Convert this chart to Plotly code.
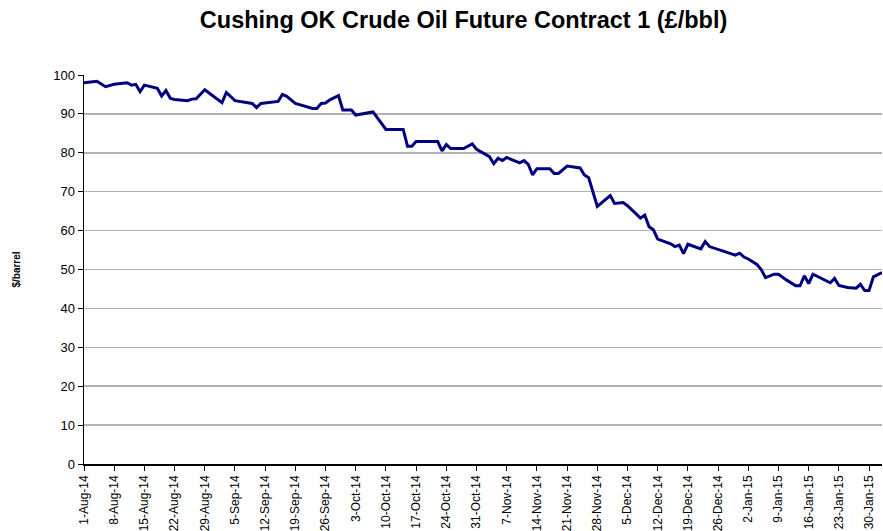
import plotly.graph_objects as go

dates = [
    "2014-08-01", "2014-08-04", "2014-08-06", "2014-08-08", "2014-08-11", "2014-08-12",
    "2014-08-13", "2014-08-14", "2014-08-15", "2014-08-18", "2014-08-19", "2014-08-20",
    "2014-08-21", "2014-08-22", "2014-08-25", "2014-08-26", "2014-08-27", "2014-08-29",
    "2014-09-02", "2014-09-03", "2014-09-05", "2014-09-09", "2014-09-10", "2014-09-11",
    "2014-09-15", "2014-09-16", "2014-09-17", "2014-09-19", "2014-09-23", "2014-09-24",
    "2014-09-25", "2014-09-26", "2014-09-27", "2014-09-29", "2014-09-30", "2014-10-02",
    "2014-10-03", "2014-10-06", "2014-10-07", "2014-10-10", "2014-10-14", "2014-10-15",
    "2014-10-16", "2014-10-17", "2014-10-22", "2014-10-23", "2014-10-24", "2014-10-25",
    "2014-10-28", "2014-10-30", "2014-10-31", "2014-11-03", "2014-11-04", "2014-11-05",
    "2014-11-06", "2014-11-07", "2014-11-10", "2014-11-11", "2014-11-12", "2014-11-13",
    "2014-11-14", "2014-11-17", "2014-11-18", "2014-11-19", "2014-11-21", "2014-11-24",
    "2014-11-25", "2014-11-26", "2014-11-28", "2014-12-01", "2014-12-02", "2014-12-04",
    "2014-12-05", "2014-12-08", "2014-12-09", "2014-12-10", "2014-12-11", "2014-12-12",
    "2014-12-15", "2014-12-16", "2014-12-17", "2014-12-18", "2014-12-19", "2014-12-22",
    "2014-12-23", "2014-12-24", "2014-12-27", "2014-12-30", "2014-12-31", "2015-01-01",
    "2015-01-02", "2015-01-04", "2015-01-05", "2015-01-06", "2015-01-08", "2015-01-09",
    "2015-01-11", "2015-01-13", "2015-01-14", "2015-01-15", "2015-01-16", "2015-01-17",
    "2015-01-21", "2015-01-22", "2015-01-23", "2015-01-25", "2015-01-27", "2015-01-28",
    "2015-01-29", "2015-01-30", "2015-01-31", "2015-02-02",
]

prices = [
    98.0, 98.4, 97.0, 97.6, 98.0, 97.4,
    97.6, 95.7, 97.4, 96.6, 94.6, 96.0,
    94.0, 93.7, 93.4, 93.8, 93.9, 96.2,
    92.9, 95.5, 93.4, 92.7, 91.6, 92.7,
    93.2, 95.0, 94.5, 92.7, 91.4, 91.4,
    92.7, 92.8, 93.6, 94.7, 91.0, 91.0,
    89.7, 90.2, 90.5, 86.0, 86.0, 81.7,
    81.7, 82.9, 82.9, 80.5, 82.1, 81.1,
    81.1, 82.3, 80.9, 79.0, 77.2, 78.6,
    78.0, 78.8, 77.4, 78.0, 77.0, 74.3,
    75.9, 75.9, 74.7, 74.7, 76.6, 76.1,
    74.3, 73.6, 66.2, 69.0, 67.0, 67.2,
    66.4, 63.2, 64.0, 61.0, 60.2, 57.8,
    56.6, 55.9, 56.3, 54.1, 56.5, 55.3,
    57.2, 55.9, 54.8, 53.7, 54.2, 53.2,
    52.7, 51.3, 50.0, 47.9, 48.8, 48.8,
    47.2, 45.8, 45.8, 48.4, 46.4, 48.8,
    46.6, 47.7, 45.9, 45.4, 45.2, 46.2,
    44.6, 44.6, 48.1, 49.2,
]

title_text = "Cushing OK Crude Oil Future Contract 1 (£/bbl)"
y_title = "$/barrel"

FONT = "Liberation Sans, Arial, sans-serif"

fig = go.Figure()
fig.add_trace(go.Scatter(
    x=dates, y=prices, mode="lines",
    line=dict(color="#000080", width=3),
    hoverinfo="skip",
))

fig.update_layout(
    width=883, height=531,
    margin=dict(l=84, r=1, t=75, b=67),
    paper_bgcolor="white", plot_bgcolor="white",
    showlegend=False,
    font=dict(family=FONT, color="black"),
    title=dict(
        text="<b>" + title_text + "</b>",
        font=dict(family=FONT, size=23.5, color="black"),
        x=0.525, xanchor="center", y=0.962, yanchor="middle",
    ),
    xaxis=dict(
        type="date", automargin=False,
        range=["2014-08-01", "2015-02-02"],
        tickmode="linear", tick0="2014-08-01", dtick=7 * 86400000,
        tickformat="%-d-%b-%y", tickangle=-90,
        tickfont=dict(family=FONT, size=12, color="black"),
        ticks="outside", ticklen=5, tickcolor="black",
        showline=True, linecolor="black", linewidth=1.5,
        showgrid=False, zeroline=False,
    ),
    yaxis=dict(
        automargin=False,
        range=[0, 100], dtick=10, tick0=0,
        tickfont=dict(family=FONT, size=13, color="black"),
        ticks="outside", ticklen=5, tickcolor="black",
        showline=True, linecolor="black", linewidth=1.5,
        showgrid=True, gridcolor="#b3b3b3", gridwidth=1.5,
        zeroline=False,
        title=dict(text="<b>" + y_title + "</b>",
                   font=dict(family=FONT, size=10, color="black"),
                   standoff=30),
    ),
)

fig.write_html(
    "out.html",
    config={"displayModeBar": False, "staticPlot": True},
    post_script="document.body.style.margin='0';document.body.style.padding='0';",
)
